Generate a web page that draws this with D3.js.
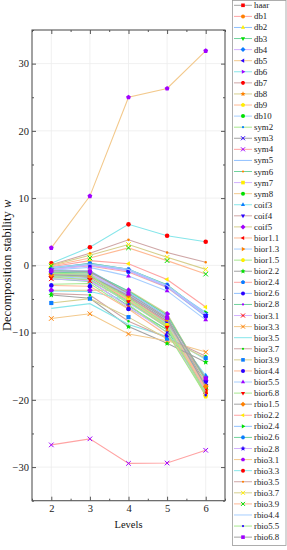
<!DOCTYPE html>
<html><head><meta charset="utf-8">
<script src="https://cdn.jsdelivr.net/npm/d3@7"></script>
<style>html,body{margin:0;padding:0;background:#fff;}svg{display:block;}</style>
</head><body>
<svg id="chart" width="287" height="550"></svg>
<script>
// ---------- data ----------
const levels = [2, 3, 4, 5, 6];
const yTicks = [-30, -20, -10, 0, 10, 20, 30];

const haarNames = ["haar"];
const haarValues = [[-1.5, -1.8, -5.3, -9.1, -18.1]];

const dbNames = ["db1","db2","db3","db4","db5","db6","db7","db8","db9","db10"];
const dbValues = [
  [-1.4, -1.3, -4.5, -8.0, -18.4],
  [-0.9, -0.8, -4.0, -7.6, -19.2],
  [-1.2, -1.4, -4.8, -8.2, -18.9],
  [-0.5, -1.0, -4.6, -8.5, -16.6],
  [-1.0, -1.2, -4.9, -8.8, -17.0],
  [-0.7, -1.0, -3.9, -7.3, -17.2],
  [-1.7, -2.2, -5.5, -9.2, -18.6],
  [-1.3, -1.5, -4.4, -7.9, -17.8],
  [-1.1, -1.6, -5.0, -8.6, -19.5],
  [-1.6, -2.0, -5.6, -9.0, -18.0]
];

const symNames = ["sym2","sym3","sym4","sym5","sym6","sym7","sym8"];
const symValues = [
  [-2.8, -2.7, -6.4, -9.5, -17.4],
  [-1.3, -1.6, -4.7, -8.3, -17.5],
  [-26.7, -25.8, -29.45, -29.4, -27.5],
  [-0.4, 0.3, -0.6, -3.0, -7.3],
  [-2.0, -2.4, -6.0, -9.6, -19.0],
  [-1.0, -1.2, -4.3, -8.1, -18.7],
  [-1.3, -1.5, -5.0, -8.4, -18.2]
];

const coifNames = ["coif3","coif4","coif5"];
const coifValues = [
  [-3.8, -3.9, -5.2, -8.7, -16.4],
  [-1.2, -1.4, -4.6, -8.5, -16.9],
  [-3.7, -3.7, -3.7, -7.2, -17.1]
];

const biorNames = ["bior1.1","bior1.3","bior1.5","bior2.2","bior2.4","bior2.6","bior2.8",
  "bior3.1","bior3.3","bior3.5","bior3.7","bior3.9","bior4.4","bior5.5","bior6.8"];
const biorValues = [
  [-1.4, -1.7, -5.2, -9.0, -18.5],
  [-1.5, -1.4, -4.4, -8.0, -17.9],
  [-1.6, -1.6, -4.9, -8.9, -19.3],
  [-4.4, -4.9, -9.1, -11.6, -14.4],
  [-0.5, -0.1, -1.0, -3.3, -7.5],
  [-0.6, 0.1, -0.8, -3.2, -7.6],
  [-1.1, -1.0, -3.8, -7.4, -17.0],
  [-2.0, -2.3, -6.2, -10.0, -18.8],
  [-7.9, -7.2, -10.2, -11.2, -12.9],
  [-6.4, -5.7, -8.8, -10.6, -14.0],
  [-4.2, -4.4, -8.3, -10.8, -13.5],
  [-5.6, -4.95, -7.7, -10.9, -13.8],
  [-3.0, -3.1, -6.5, -10.4, -17.3],
  [-0.7, -0.3, -1.6, -3.8, -8.1],
  [-1.8, -2.1, -5.4, -9.2, -19.0]
];

const rbioNames = ["rbio1.5","rbio2.2","rbio2.4","rbio2.6","rbio2.8","rbio3.1","rbio3.3",
  "rbio3.5","rbio3.7","rbio3.9","rbio4.4","rbio5.5","rbio6.8"];
const rbioValues = [
  [-1.4, -1.6, -4.5, -8.0, -18.0],
  [-0.2, 0.7, 0.25, -2.1, -6.2],
  [-0.3, 0.2, -0.7, -3.1, -7.0],
  [-0.5, 0.3, -0.6, -2.9, -7.3],
  [-0.6, 0.0, -0.8, -3.1, -7.4],
  [2.6, 10.3, 25.0, 26.3, 31.9],
  [0.3, 2.7, 6.1, 4.4, 3.5],
  [0.1, 1.8, 3.8, 1.9, 0.45],
  [0.0, 1.5, 3.1, 1.2, -0.6],
  [-0.1, 1.1, 2.6, 0.7, -1.3],
  [-0.4, 0.2, -0.6, -3.0, -7.2],
  [-1.2, -1.3, -5.8, -10.0, -19.3],
  [-0.8, -0.9, -4.2, -7.8, -16.8]
];

// ---------- styles ----------
const lineColors = ["#a3a3a3","#ffa3a3","#8ec0ff","#6fd39c","#d2b0ff","#f3c98c",
  "#86e6ea","#cfa6a6","#d6cf8e","#ffb994","#a6ceff","#a6e88e"];
const markerColors = ["#ff0000","#ff8000","#ffee00","#00e000","#0a7cff","#2a00ff","#a000ff"];
const shapeCycle = ["square","circle","up","down","diamond","left","right","hexagon",
  "star","pentagon","circle","dot","x","x","none","dot"];

const names = [].concat(haarNames, dbNames, symNames, coifNames, biorNames, rbioNames);
const values = [].concat(haarValues, dbValues, symValues, coifValues, biorValues, rbioValues);
const series = names.map((n, i) => ({
  name: n, vals: values[i],
  line: lineColors[i % 12], mc: markerColors[i % 7], shape: shapeCycle[i % 16]
}));

// ---------- layout ----------
const svg = d3.select("#chart");
const L = 32, R = 225, T = 30, B = 500.7;
const x = d3.scaleLinear().domain([1.5, 6.5]).range([L, R]);
const y = d3.scaleLinear().domain([-35, 35]).range([B, T]);
const font = "'Liberation Serif','Times New Roman',serif";

// grid
const grid = svg.append("g");
grid.selectAll(".gx").data(levels).join("line")
  .attr("x1", d => x(d)).attr("x2", d => x(d)).attr("y1", T).attr("y2", B)
  .attr("stroke", "#ececec").attr("stroke-width", 0.8);
grid.selectAll(".gy").data(yTicks).join("line")
  .attr("x1", L).attr("x2", R).attr("y1", d => y(d)).attr("y2", d => y(d))
  .attr("stroke", "#ececec").attr("stroke-width", 0.8);

// marker path
function shapePath(kind, r) {
  const p = d3.path();
  const poly = (n, rot, rad) => {
    for (let k = 0; k < n; k++) {
      const a = rot + k * 2 * Math.PI / n;
      const px = rad * Math.cos(a), py = rad * Math.sin(a);
      if (k === 0) p.moveTo(px, py); else p.lineTo(px, py);
    }
    p.closePath();
  };
  switch (kind) {
    case "square": p.rect(-r * 0.9, -r * 0.9, r * 1.8, r * 1.8); break;
    case "circle": p.arc(0, 0, r, 0, 2 * Math.PI); break;
    case "dot": p.arc(0, 0, r * 0.55, 0, 2 * Math.PI); break;
    case "up": poly(3, -Math.PI / 2, r * 1.2); break;
    case "down": poly(3, Math.PI / 2, r * 1.2); break;
    case "left": poly(3, Math.PI, r * 1.2); break;
    case "right": poly(3, 0, r * 1.2); break;
    case "diamond": poly(4, -Math.PI / 2, r * 1.25); break;
    case "hexagon": poly(6, 0, r * 1.05); break;
    case "pentagon": poly(5, -Math.PI / 2, r * 1.1); break;
    case "star": {
      for (let k = 0; k < 10; k++) {
        const a = -Math.PI / 2 + k * Math.PI / 5;
        const rad = k % 2 === 0 ? r * 1.35 : r * 0.6;
        if (k === 0) p.moveTo(rad * Math.cos(a), rad * Math.sin(a));
        else p.lineTo(rad * Math.cos(a), rad * Math.sin(a));
      }
      p.closePath(); break;
    }
    case "x": p.moveTo(-r, -r); p.lineTo(r, r); p.moveTo(-r, r); p.lineTo(r, -r); break;
  }
  return p.toString();
}
function drawMarker(g, s, cx, cy, r) {
  if (s.shape === "none") return;
  const path = g.append("path").attr("d", shapePath(s.shape, r))
    .attr("transform", `translate(${cx},${cy})`);
  if (s.shape === "x") path.attr("fill", "none").attr("stroke", s.mc).attr("stroke-width", 1);
  else path.attr("fill", s.mc);
}

// series
const plot = svg.append("g");
const lineGen = d3.line().x((d, i) => x(levels[i])).y(d => y(d));
series.forEach(s => {
  const g = plot.append("g");
  g.append("path").datum(s.vals).attr("d", lineGen)
    .attr("fill", "none").attr("stroke", s.line).attr("stroke-width", 1.1);
  s.vals.forEach((v, i) => drawMarker(g, s, x(levels[i]), y(v), 2.3));
});

// axes
const axisColor = "#555";
function styleAxis(g) {
  g.select(".domain").remove();
  g.selectAll("line").attr("stroke", axisColor).attr("stroke-width", 1);
  g.selectAll("text").attr("font-family", font).attr("font-size", "10.5px").attr("fill", "#222");
}
const minorX = [1.5, 2.5, 3.5, 4.5, 5.5, 6.5];
const minorY = [-35, -25, -15, -5, 5, 15, 25, 35];
svg.append("g").attr("transform", `translate(0,${B})`)
  .call(d3.axisBottom(x).tickValues(levels).tickFormat(d3.format("d")).tickSize(-4).tickPadding(4)).call(styleAxis);
svg.append("g").attr("transform", `translate(0,${B})`)
  .call(d3.axisBottom(x).tickValues(minorX).tickFormat("").tickSize(-2)).call(styleAxis);
svg.append("g").attr("transform", `translate(0,${T})`)
  .call(d3.axisTop(x).tickValues(levels).tickFormat("").tickSize(-4)).call(styleAxis);
svg.append("g").attr("transform", `translate(0,${T})`)
  .call(d3.axisTop(x).tickValues(minorX).tickFormat("").tickSize(-2)).call(styleAxis);
svg.append("g").attr("transform", `translate(${L},0)`)
  .call(d3.axisLeft(y).tickValues(yTicks).tickSize(-4).tickPadding(3)).call(styleAxis);
svg.append("g").attr("transform", `translate(${L},0)`)
  .call(d3.axisLeft(y).tickValues(minorY).tickFormat("").tickSize(-2)).call(styleAxis);
svg.append("g").attr("transform", `translate(${R},0)`)
  .call(d3.axisRight(y).tickValues(yTicks).tickFormat("").tickSize(-4)).call(styleAxis);
svg.append("g").attr("transform", `translate(${R},0)`)
  .call(d3.axisRight(y).tickValues(minorY).tickFormat("").tickSize(-2)).call(styleAxis);

svg.append("rect").attr("x", L).attr("y", T).attr("width", R - L).attr("height", B - T)
  .attr("fill", "none").attr("stroke", axisColor).attr("stroke-width", 1.1);

// axis titles
svg.append("text").attr("x", (L + R) / 2).attr("y", 527.5).attr("text-anchor", "middle")
  .attr("font-family", font).attr("font-size", "10.5px").attr("fill", "#111").text("Levels");
const yl = svg.append("text").attr("transform", `translate(10.5,${(T + B) / 2}) rotate(-90)`)
  .attr("text-anchor", "middle").attr("font-family", font).attr("font-size", "12.5px").attr("fill", "#111");
yl.append("tspan").text("Decomposition stability ");
yl.append("tspan").attr("font-style", "italic").text("w");

// legend
const lg = svg.append("g");
const lx0 = 232.5, ly0 = 5.3, lstep = 11.08;
lg.append("rect").attr("x", lx0).attr("y", 0.5).attr("width", 286 - lx0).attr("height", 545)
  .attr("fill", "#fff").attr("stroke", "#999").attr("stroke-width", 0.8);
series.forEach((s, i) => {
  const yy = ly0 + i * lstep;
  const g = lg.append("g");
  g.append("line").attr("x1", lx0 + 1.5).attr("x2", lx0 + 19.5).attr("y1", yy).attr("y2", yy)
    .attr("stroke", s.line).attr("stroke-width", 1);
  drawMarker(g, s, lx0 + 10.5, yy, 2);
  g.append("text").attr("x", lx0 + 21.5).attr("y", yy + 3)
    .attr("font-family", font).attr("font-size", "8.8px").attr("fill", "#222").text(s.name);
});
</script>
</body></html>
